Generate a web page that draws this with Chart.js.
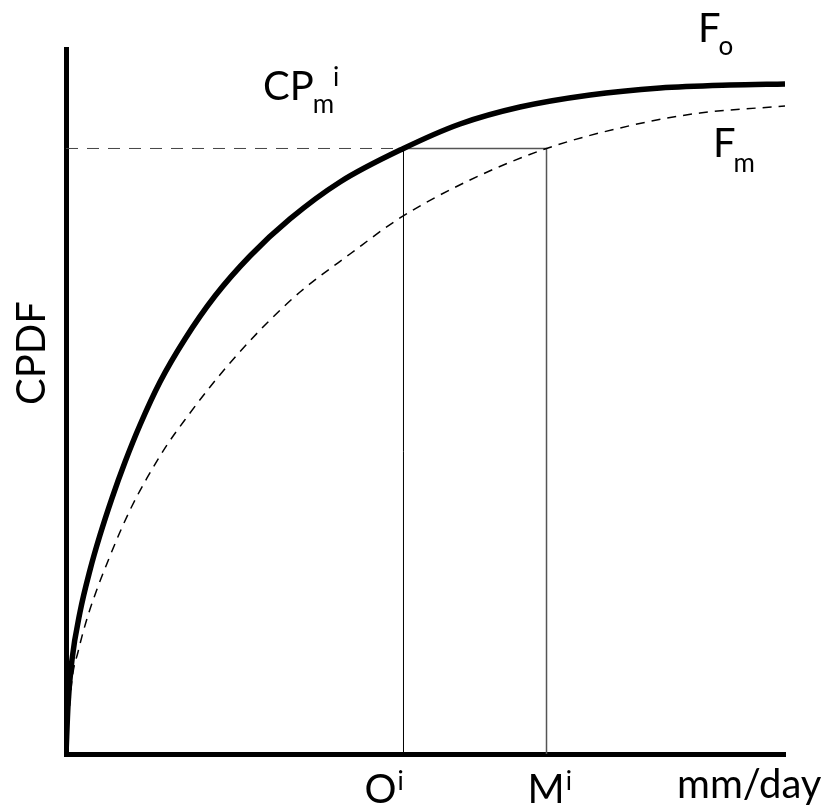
<!DOCTYPE html>
<html>
<head>
<meta charset="utf-8">
<script src="https://cdn.jsdelivr.net/npm/chart.js@4.4.1/dist/chart.umd.min.js"></script>
<style>
  html, body { margin: 0; padding: 0; background: #fff; }
  canvas { display: block; }
</style>
</head>
<body>
<canvas id="chart" width="827" height="809"></canvas>
<script>
// x: rainfall (mm/day, arbitrary 0-100), y: CPDF (0-100)
const foX = [0, 0.28, 0.83, 1.95, 3.34, 4.73, 6.4, 8.21, 10.29, 13.07, 16.55, 20.72, 25.59, 31.15, 38.11, 46.94, 54.8, 63.14, 72.88, 82.62, 92.35, 100];
const foY = [0, 6.95, 13.33, 20.14, 26.1, 31.06, 36.31, 41.42, 46.67, 52.77, 58.87, 64.96, 70.64, 75.89, 81.13, 85.89, 89.36, 91.77, 93.48, 94.47, 94.89, 95.04];

const fmX = [0, 0.83, 1.67, 2.78, 4.17, 5.84, 7.51, 9.18, 11.27, 14.05, 16.83, 20.03, 23.78, 27.96, 32.55, 39.5, 46.45, 56.19, 66.83, 78.86, 88.18, 100];
const fmY = [0, 10.5, 14.47, 18.72, 22.98, 27.38, 31.49, 35.18, 39.15, 43.83, 47.8, 52.06, 56.6, 61.13, 65.53, 70.92, 76.03, 81.42, 85.89, 89.22, 90.92, 91.91];

const cpLevel = 85.89;   // CP_m^i
const oValue = 46.94;    // O^i
const mValue = 66.83;    // M^i

const toPts = (xs, ys) => xs.map((x, i) => ({ x: x, y: ys[i] }));

const fontName = "Lato, 'Open Sans', sans-serif";

const labelPlugin = {
  id: "labels",
  afterDraw(chart) {
    const ctx = chart.ctx;
    const xs = chart.scales.x;
    ctx.save();
    ctx.fillStyle = "#000";
    ctx.textBaseline = "alphabetic";
    ctx.textAlign = "left";

    const big = "40px " + fontName;
    const small = "26px " + fontName;
    // main text, then a small index right after it
    const put = (txt, x, y, idx, idxY, gap) => {
      ctx.font = big;
      ctx.fillText(txt, x, y);
      const w = ctx.measureText(txt).width;
      if (idx) {
        ctx.font = small;
        ctx.fillText(idx, x + w + gap, idxY);
      }
      return x + w + gap;
    };

    // y axis title
    ctx.save();
    ctx.translate(45, 353);
    ctx.rotate(-Math.PI / 2);
    ctx.textAlign = "center";
    ctx.font = big;
    ctx.fillText("CPDF", 0, 0);
    ctx.restore();

    // CP_m^i
    const after = put("CP", 263, 100, "m", 113, -1);
    ctx.font = small;
    ctx.fillText("i", after + ctx.measureText("m").width - 1, 86);

    // F_o and F_m
    put("F", 698, 42, "o", 55, -2);
    put("F", 713, 157, "m", 172, -2);

    // x labels
    const ox = xs.getPixelForValue(oValue);
    const mx = xs.getPixelForValue(mValue);
    put("O", ox - 39, 803, "i", 790, 1);
    put("M", mx - 19, 803, "i", 790, 1);
    put("mm/day", 677, 798, null);
    ctx.restore();
  }
};

new Chart(document.getElementById("chart"), {
  type: "line",
  data: {
    datasets: [
      {
        label: "Fo",
        data: toPts(foX, foY),
        borderColor: "#000",
        borderWidth: 5.5,
        pointRadius: 0,
        cubicInterpolationMode: "monotone"
      },
      {
        label: "Fm",
        data: toPts(fmX, fmY),
        borderColor: "#000",
        borderWidth: 1.5,
        borderDash: [9, 7],
        pointRadius: 0,
        cubicInterpolationMode: "monotone"
      },
      {
        label: "cp",
        data: [{ x: 0, y: cpLevel }, { x: oValue, y: cpLevel }],
        borderColor: "#444",
        borderWidth: 1,
        borderDash: [12, 9],
        pointRadius: 0
      },
      {
        label: "o",
        data: [{ x: oValue, y: 0 }, { x: oValue, y: cpLevel }],
        borderColor: "#000",
        borderWidth: 1,
        pointRadius: 0
      },
      {
        label: "m",
        data: [{ x: oValue, y: cpLevel }, { x: mValue, y: cpLevel }, { x: mValue, y: 0 }],
        borderColor: "#555",
        borderWidth: 1.5,
        pointRadius: 0
      }
    ]
  },
  options: {
    responsive: false,
    animation: false,
    layout: { padding: { top: 49, right: 42, left: 0, bottom: 0 } },
    plugins: {
      legend: { display: false },
      tooltip: { enabled: false }
    },
    scales: {
      x: {
        type: "linear",
        min: 0,
        max: 100,
        ticks: { display: false },
        grid: { display: false },
        border: { width: 5, color: "#000" },
        afterFit: (s) => { s.height = 55; }
      },
      y: {
        type: "linear",
        min: 0,
        max: 100,
        ticks: { display: false },
        grid: { display: false },
        border: { width: 5, color: "#000" },
        afterFit: (s) => { s.width = 66; }
      }
    }
  },
  plugins: [labelPlugin]
});
</script>
</body>
</html>
